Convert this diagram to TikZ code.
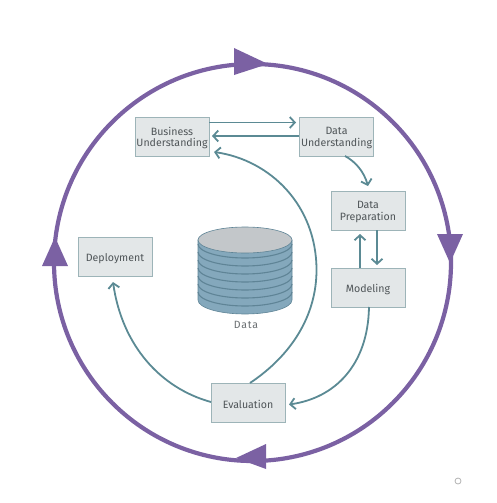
\documentclass[tikz,border=0pt]{standalone}
\usepackage{fontspec}
\setmainfont{Fira Sans}
\usetikzlibrary{arrows.meta,calc}
\definecolor{purp}{HTML}{7B61A3}
\definecolor{teal1}{HTML}{5B8A94}
\definecolor{boxfill}{HTML}{E3E7E8}
\definecolor{boxline}{HTML}{9DB4B8}
\definecolor{txt}{HTML}{4F5558}
\definecolor{cylbody}{HTML}{84A8BC}
\definecolor{cylline}{HTML}{5F8496}
\definecolor{cyltop}{HTML}{C3C7CA}
\newcommand{\lowertext}[1]{\raisebox{0pt}[\dimexpr\height+3pt\relax]{#1}}
\tikzset{
  x=1pt,y=-1pt,
  stagebox/.style={draw=boxline,line width=1pt,fill=boxfill,minimum width=74pt,minimum height=39pt,inner sep=0pt,align=center,text=txt,font=\fontsize{10.6}{10.6}\selectfont},
  flow/.style={draw=teal1,line width=1.8pt,-{Straight Barb[length=5pt,width=11pt,line width=1.8pt]}},
  wheel/.style={draw=purp,line width=4.2pt},
  wheeltip/.style={fill=purp,draw=none},
}
\begin{document}
\begin{tikzpicture}
\useasboundingbox (0,0) rectangle (496,503);
% outer cycle
\coordinate (c) at (252.5,262.5);
\draw[wheel] (c) circle[radius=198.5];
\fill[wheeltip] (234,48) -- (268,64) -- (234,75) -- cycle;
\fill[wheeltip] (437,234) -- (463,234) -- (450,263) -- cycle;
\fill[wheeltip] (266,444) -- (266,469) -- (236,458) -- cycle;
\fill[wheeltip] (42,266) -- (68,266) -- (55,237) -- cycle;
% stages
\node[stagebox] (bu) at (172,136.5) {\lowertext{\shortstack{Business\\Understanding}}};
\node[stagebox] (du) at (336.5,136.5) {\lowertext{\shortstack{Data\\Understanding}}};
\node[stagebox] (dp) at (368,210.5) {\lowertext{\shortstack{Data\\Preparation}}};
\node[stagebox] (mo) at (368,287.5) {\lowertext{Modeling}};
\node[stagebox] (de) at (115,257) {\lowertext{Deployment}};
\node[stagebox] (ev) at (248,402.5) {\lowertext{Evaluation}};
% cylinder
\fill[cylbody,draw=cylline,line width=0.6pt] (198,240) -- (198,300) arc[start angle=180,end angle=0,x radius=47,y radius=14] -- (292,240) -- cycle;
\foreach \yy in {244,252,260,268,276,284,292}
  \draw[cylline,line width=1.1pt] (198,\yy) arc[start angle=180,end angle=0,x radius=47,y radius=14];
\fill[cyltop,draw=cylline,line width=0.6pt] (245,240) ellipse[x radius=47,y radius=13];
\node[text=txt!85,font=\fontsize{10.5}{12}\selectfont\addfontfeature{LetterSpace=8},inner sep=0pt] (dl) at (246,325) {Data};
% connector ends
\coordinate (bu1) at (209,122.5); \coordinate (du1) at (296,122.5);
\coordinate (du2) at (299,136); \coordinate (bu2) at (212,136);
\coordinate (bu3) at (214,152);
\coordinate (du3) at (345,156); \coordinate (dp1) at (368,186);
\coordinate (dp2) at (377,230); \coordinate (mo1) at (377,265);
\coordinate (mo2) at (360,268); \coordinate (dp3) at (360,234);
\coordinate (mo3) at (369,307); \coordinate (ev1) at (289,404.5);
\coordinate (ev2) at (250,383); \coordinate (ev3) at (211,402);
\coordinate (de1) at (113,282);
\draw[flow] (bu1) -- (du1);
\draw[flow] (du2) -- (bu2);
\draw[flow] (du3) .. controls (356,162) and (364,172) .. (dp1);
\draw[flow] (dp2) -- (mo1);
\draw[flow] (mo2) -- (dp3);
\draw[flow] (mo3) .. controls (368,365) and (335,398) .. (ev1);
\draw[flow] (ev2) .. controls (292,355) and (316.5,315) .. (316.5,270) .. controls (316.5,205) and (270,160) .. (bu3);
\draw[flow] (ev3) .. controls (160,388) and (122,345) .. (de1);
% small mark
\draw[gray!60,line width=0.8pt] (458,481) circle[radius=3];
\end{tikzpicture}
\end{document}
